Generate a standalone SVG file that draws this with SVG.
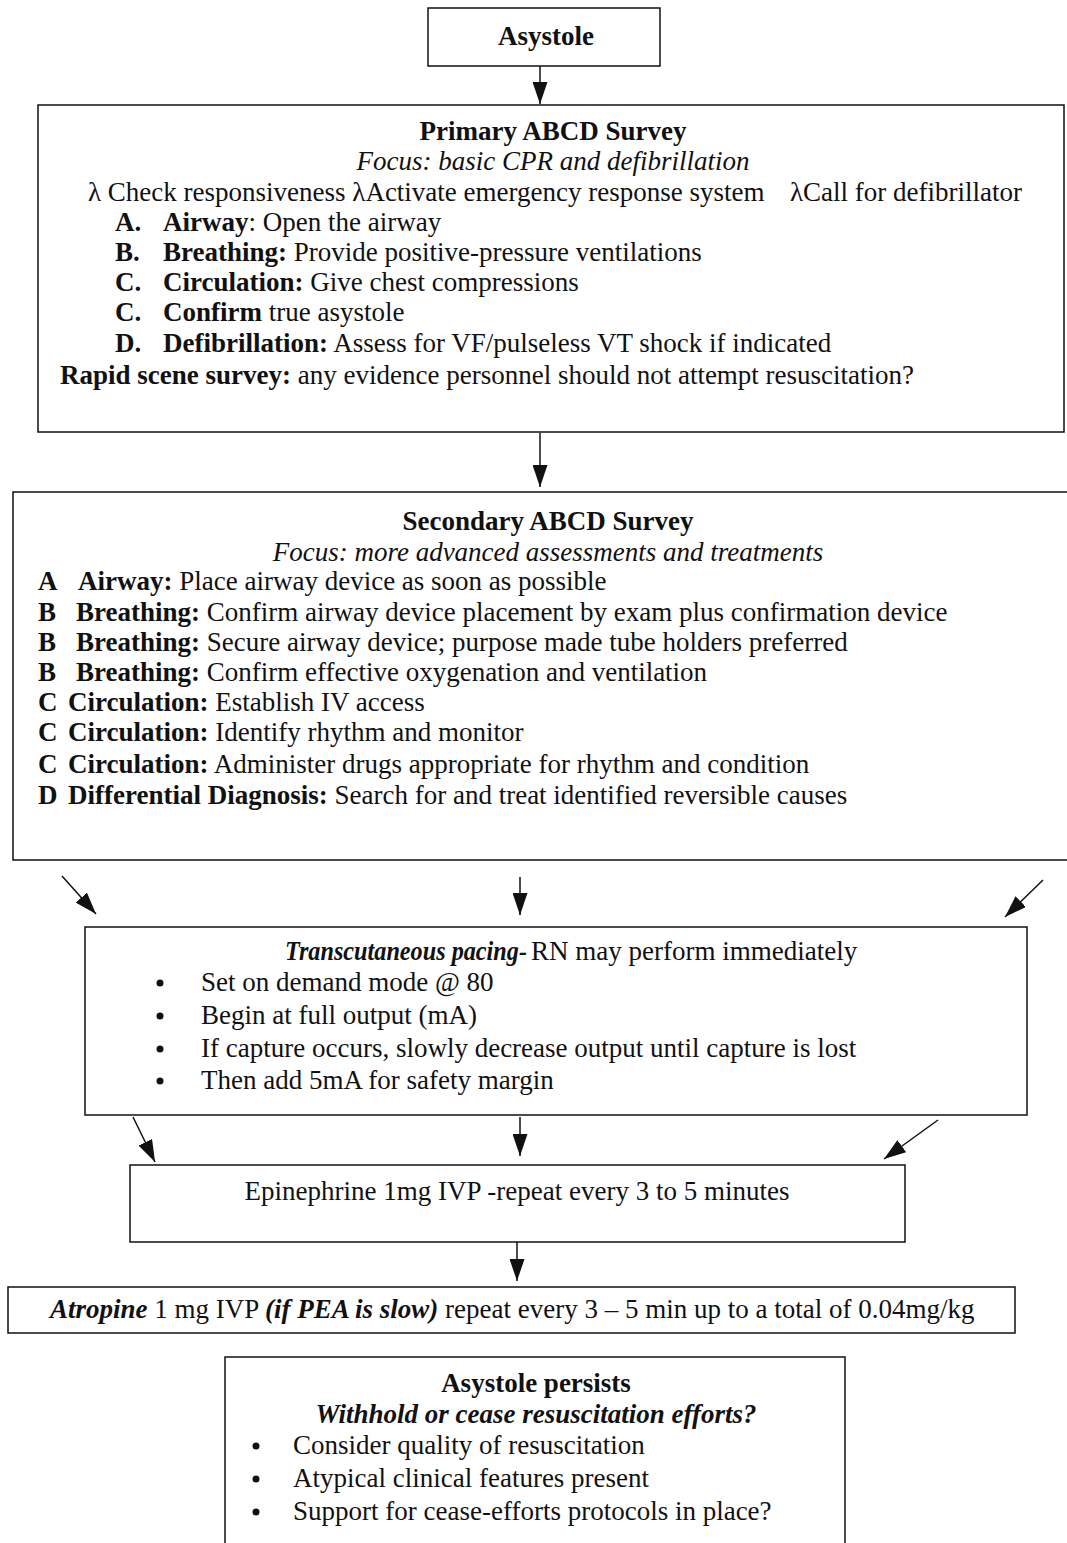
<svg xmlns="http://www.w3.org/2000/svg" width="1067" height="1543" viewBox="0 0 1067 1543">
<style>
.box{fill:#fff;stroke:#111;stroke-width:1.5}
text{font-family:"Liberation Serif","Times New Roman",serif;font-size:27px;fill:#111}
.b{font-weight:bold}
.i{font-style:italic}
.c{text-anchor:middle}
.conn line{stroke:#111;stroke-width:1.5}
</style>
<defs>
<marker id="a" markerUnits="userSpaceOnUse" markerWidth="22" markerHeight="15" viewBox="0 0 22 15" refX="22" refY="7.5" orient="auto">
<path d="M0,0 L22,7.5 L0,15 Z" fill="#111"/>
</marker>
</defs>
<rect width="1067" height="1543" fill="#fff"/>

<g id="asystole">
<rect class="box" x="428" y="8" width="232" height="58"/>
<text class="b c" x="546" y="45">Asystole</text>
</g>

<g id="primary">
<rect class="box" x="38" y="105" width="1026" height="327"/>
<text class="b c" x="553" y="140">Primary ABCD Survey</text>
<text class="i c" x="553" y="170">Focus: basic CPR and defibrillation</text>
<text x="88" y="201">λ Check responsiveness λActivate emergency response system<tspan x="790">λCall for defibrillator</tspan></text>
<text y="231"><tspan x="115" class="b">A.</tspan><tspan x="163" class="b">Airway</tspan>:  Open the airway</text>
<text y="261"><tspan x="115" class="b">B.</tspan><tspan x="163" class="b">Breathing:</tspan> Provide positive-pressure ventilations</text>
<text y="291"><tspan x="115" class="b">C.</tspan><tspan x="163" class="b">Circulation:</tspan> Give chest compressions</text>
<text y="321"><tspan x="115" class="b">C.</tspan><tspan x="163" class="b">Confirm</tspan> true asystole</text>
<text y="352"><tspan x="115" class="b">D.</tspan><tspan x="163" class="b">Defibrillation:</tspan>  Assess for VF/pulseless VT shock if indicated</text>
<text x="60" y="384"><tspan class="b">Rapid scene survey:</tspan> any evidence personnel should not attempt resuscitation?</text>
</g>

<g id="secondary">
<rect class="box" x="13" y="492" width="1070" height="368"/>
<text class="b c" x="548" y="530">Secondary ABCD Survey</text>
<text class="i c" x="548" y="561">Focus: more advanced assessments and treatments</text>
<text y="590"><tspan x="38" class="b">A</tspan><tspan x="78" class="b">Airway:</tspan> Place airway device as soon as possible</text>
<text y="621"><tspan x="38" class="b">B</tspan><tspan x="76" class="b">Breathing:</tspan>  Confirm airway device placement by exam plus confirmation device</text>
<text y="651"><tspan x="38" class="b">B</tspan><tspan x="76" class="b">Breathing:</tspan>  Secure airway device; purpose made tube holders preferred</text>
<text y="681"><tspan x="38" class="b">B</tspan><tspan x="76" class="b">Breathing:</tspan> Confirm effective oxygenation and ventilation</text>
<text y="711"><tspan x="38" class="b">C</tspan><tspan x="68" class="b">Circulation:</tspan> Establish IV access</text>
<text y="741"><tspan x="38" class="b">C</tspan><tspan x="68" class="b">Circulation:</tspan>  Identify rhythm and monitor</text>
<text y="773"><tspan x="38" class="b">C</tspan><tspan x="68" class="b">Circulation:</tspan>  Administer drugs appropriate for rhythm and condition</text>
<text y="804"><tspan x="38" class="b">D</tspan><tspan x="68" class="b">Differential Diagnosis:</tspan> Search for and treat identified reversible causes</text>
</g>

<g id="pacing">
<rect class="box" x="85" y="927" width="942" height="188"/>
<text class="b i" x="285" y="960" textLength="242" lengthAdjust="spacingAndGlyphs">Transcutaneous pacing-</text>
<text x="531" y="960">RN may perform immediately</text>
<circle cx="160" cy="983" r="3.5" fill="#111"/>
<text x="201" y="991">Set on demand mode @ 80</text>
<circle cx="160" cy="1016" r="3.5" fill="#111"/>
<text x="201" y="1024">Begin at full output (mA)</text>
<circle cx="160" cy="1049" r="3.5" fill="#111"/>
<text x="201" y="1057">If capture occurs, slowly decrease output until capture is lost</text>
<circle cx="160" cy="1081" r="3.5" fill="#111"/>
<text x="201" y="1089">Then add 5mA for safety margin</text>
</g>

<g id="epinephrine">
<rect class="box" x="130" y="1165" width="775" height="77"/>
<text class="c" x="517" y="1200">Epinephrine 1mg IVP -repeat every 3 to 5 minutes</text>
</g>

<g id="atropine">
<rect class="box" x="8" y="1287" width="1007" height="46"/>
<text x="50" y="1318"><tspan class="b i">Atropine</tspan> 1 mg IVP <tspan class="b i">(if PEA is slow)</tspan> repeat every 3 – 5 min up to a total of 0.04mg/kg</text>
</g>

<g id="persists">
<rect class="box" x="225" y="1357" width="620" height="200"/>
<text class="b c" x="536" y="1392">Asystole persists</text>
<text class="b i c" x="536" y="1423">Withhold or cease resuscitation efforts?</text>
<circle cx="256" cy="1446" r="3.5" fill="#111"/>
<text x="293" y="1454">Consider quality of resuscitation</text>
<circle cx="256" cy="1479" r="3.5" fill="#111"/>
<text x="293" y="1487">Atypical clinical features present</text>
<circle cx="256" cy="1512" r="3.5" fill="#111"/>
<text x="293" y="1520">Support for cease-efforts protocols in place?</text>
</g>

<g class="conn" id="connectors">
<line x1="540" y1="66" x2="540" y2="104" marker-end="url(#a)"/>
<line x1="540" y1="433" x2="540" y2="487" marker-end="url(#a)"/>
<line x1="62" y1="876" x2="96" y2="914" marker-end="url(#a)"/>
<line x1="520" y1="877" x2="520" y2="915" marker-end="url(#a)"/>
<line x1="1043" y1="880" x2="1005" y2="917" marker-end="url(#a)"/>
<line x1="133" y1="1117" x2="155" y2="1162" marker-end="url(#a)"/>
<line x1="520" y1="1117" x2="520" y2="1156" marker-end="url(#a)"/>
<line x1="938" y1="1120" x2="884" y2="1159" marker-end="url(#a)"/>
<line x1="517" y1="1242" x2="517" y2="1281" marker-end="url(#a)"/>
</g>
</svg>
